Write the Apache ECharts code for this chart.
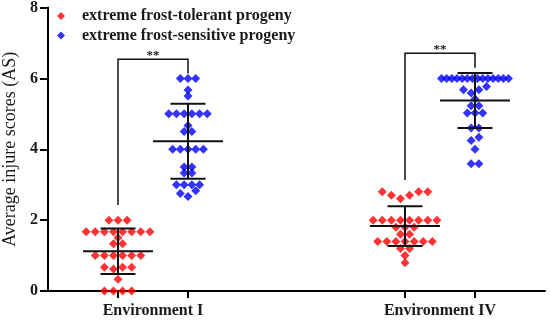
<!DOCTYPE html>
<html><head><meta charset="utf-8">
<script src="https://cdn.jsdelivr.net/npm/echarts@6/dist/echarts.min.js"></script>
<style>html,body{margin:0;padding:0;background:#fff}#c{width:550px;height:321px}</style>
</head><body><div id="c"></div>
<script>
// ---------------- data ----------------
const categories = ['Environment I', 'Environment IV'];
const seriesNames = ['extreme frost-tolerant progeny', 'extreme frost-sensitive progeny'];
const yTicks = [0, 2, 4, 6, 8];
const tolerantEnvI = [2, 2, 2, 1.67, 1.67, 1.67, 1.67, 1.67, 1.67, 1.67, 1.67, 1.5, 1.33, 1.33,
  1, 1, 1, 1, 1, 1, 0.67, 0.62, 0.67, 0.67, 0.33, 0, 0, 0, 0];
const sensitiveEnvI = [6, 6, 6, 5.67, 5.5, 5, 5, 5, 5, 5, 5, 4.67, 4.5, 4.5, 4, 4, 4, 4, 4,
  3.5, 3.5, 3.33, 3.33, 3, 3, 3, 3, 2.83, 2.75, 2.67];
const tolerantEnvIV = [2.8, 2.8, 2.8, 2.7, 2.7, 2.6, 2, 2, 2, 2, 2, 2, 2, 2, 1.8, 1.8, 1.8,
  1.6, 1.6, 1.4, 1.4, 1.4, 1.4, 1.4, 1.4, 1.4, 1.2, 1.2, 1.0, 0.8];
const sensitiveEnvIV = [6, 6, 6, 6, 6, 6, 6, 6, 6, 6, 6, 6, 6, 6, 5.77, 5.68, 5.68, 5.59, 5.42,
  5.23, 5.23, 5.02, 5.02, 5.02, 4.6, 4.6, 4.34, 4.25, 4.0, 3.59, 3.59];
const significance = ['**', '**'];
// significance brackets (y values): [left end, top, right end]
const bracketEnvI = [2.43, 6.54, 6.14];
const bracketEnvIV = [3.13, 6.71, 6.30];

// ---------------- layout ----------------
const colX = [[1, 2], [5.1, 6.1]];   // column positions on the x value axis
const labelX = [1.5, 5.6];
const X_MAX = 7.1;
const GAP = 0.14;                    // rows closer than this are swarmed together
const SPACING = [0.13, 0.11];        // horizontal spacing of points (x units)
const MAX_W = 0.957;                 // max swarm width
const colors = ['#ff0000', '#0000ff'];
const FONT = '"Liberation Serif", "Times New Roman", serif';
const TXT = '#1a1a1a';

function swarm(values, cx, spacing) {
  const sorted = values.slice().sort((a, b) => a - b);
  const bins = []; let cur = [];
  sorted.forEach(v => {
    if (cur.length && v - cur[cur.length - 1] > GAP + 1e-9) { bins.push(cur); cur = []; }
    cur.push(v);
  });
  if (cur.length) bins.push(cur);
  const pts = [];
  bins.forEach(bin => {
    const n = bin.length;
    const s = n > 1 ? Math.min(spacing, MAX_W / (n - 1)) : 0;
    const slots = [];
    for (let i = 0; i < n; i++) slots.push((i - (n - 1) / 2) * s);
    slots.sort((a, b) => (Math.abs(a) - Math.abs(b)) || (a - b));
    bin.forEach((v, i) => pts.push([cx + slots[i], v]));
  });
  return pts;
}
function stats(a) {
  const m = a.reduce((s, v) => s + v, 0) / a.length;
  const sd = Math.sqrt(a.reduce((s, v) => s + (v - m) * (v - m), 0) / (a.length - 1));
  return [m, sd];
}

const groups = [[tolerantEnvI, tolerantEnvIV], [sensitiveEnvI, sensitiveEnvIV]];
const scatterSeries = groups.map((g, si) => ({
  name: seriesNames[si],
  type: 'scatter',
  symbol: 'diamond',
  symbolSize: 9,
  itemStyle: { color: colors[si] },
  z: 2,
  data: g.flatMap((vals, ei) => swarm(vals, colX[ei][si], SPACING[si]))
}));

const summaryData = [];
groups.forEach((g, si) => g.forEach((vals, ei) => {
  const [m, sd] = stats(vals);
  summaryData.push([colX[ei][si], m, sd]);
}));

const brackets = [bracketEnvI, bracketEnvIV];
const bracketData = brackets.map((b, ei) => [colX[ei][0], colX[ei][1], b[0], b[1], b[2], ei]);

const chart = echarts.init(document.getElementById('c'), null, { renderer: 'canvas' });
chart.setOption({
  animation: false,
  backgroundColor: '#fff',
  grid: { left: 48, right: 5, top: 7.5, bottom: 30, containLabel: false, outerBoundsMode: 'none' },
  legend: [0, 1].map(i => ({
    data: [seriesNames[i]],
    left: 57, top: 8 + i * 19.5,
    padding: 0,
    icon: 'diamond', itemWidth: 8, itemHeight: 8,
    textStyle: { fontFamily: FONT, fontWeight: 'bold', fontSize: 16, color: TXT, padding: [0, 0, 0, 12] }
  })),
  xAxis: {
    type: 'value', min: 0, max: X_MAX,
    splitLine: { show: false },
    axisLine: { lineStyle: { color: '#000', width: 2 } },
    axisTick: { show: true, customValues: [colX[0][0], colX[0][1], colX[1][0], colX[1][1]], length: 7, lineStyle: { color: '#000', width: 2 } },
    axisLabel: {
      customValues: labelX,
      formatter: v => categories[labelX.indexOf(v)],
      fontFamily: FONT, fontWeight: 'bold', fontSize: 16, color: TXT, margin: 12
    }
  },
  yAxis: {
    type: 'value', min: yTicks[0], max: yTicks[yTicks.length - 1], interval: yTicks[1] - yTicks[0],
    splitLine: { show: false },
    axisLine: { show: true, lineStyle: { color: '#000', width: 2 } },
    axisTick: { show: true, length: 8, lineStyle: { color: '#000', width: 2 } },
    axisLabel: { fontFamily: FONT, fontWeight: 'bold', fontSize: 16, color: TXT, margin: 10 },
    name: 'Average injure scores (AS)',
    nameLocation: 'middle', nameGap: 26,
    nameTextStyle: { fontFamily: FONT, fontSize: 18, color: TXT }
  },
  series: [
    ...scatterSeries,
    {
      type: 'custom', z: 5, silent: true,
      data: summaryData,
      renderItem: (params, api) => {
        const x = api.value(0), m = api.value(1), sd = api.value(2);
        const p = (a, b) => api.coord([a, b]);
        const seg = (a, b) => ({ type: 'line', shape: { x1: a[0], y1: a[1], x2: b[0], y2: b[1] }, style: { stroke: '#111', lineWidth: 2 } });
        return {
          type: 'group', children: [
            seg(p(x - 0.5, m), p(x + 0.5, m)),
            seg(p(x - 0.25, m + sd), p(x + 0.25, m + sd)),
            seg(p(x - 0.25, m - sd), p(x + 0.25, m - sd)),
            seg(p(x, m - sd), p(x, m + sd))
          ]
        };
      }
    },
    {
      type: 'custom', z: 5, silent: true,
      data: bracketData,
      renderItem: (params, api) => {
        const xl = api.value(0), xr = api.value(1), yl = api.value(2), yt = api.value(3), yr = api.value(4);
        const p = (a, b) => api.coord([a, b]);
        const top = p((xl + xr) / 2, yt);
        return {
          type: 'group', children: [
            { type: 'polyline', shape: { points: [p(xl, yl), p(xl, yt), p(xr, yt), p(xr, yr)] }, style: { stroke: '#111', lineWidth: 1.5, fill: null } },
            { type: 'text', x: top[0], y: top[1] - 4, style: { text: significance[params.dataIndex], fontFamily: FONT, fontSize: 13, fontWeight: 'bold', fill: TXT, align: 'center', verticalAlign: 'middle' } }
          ]
        };
      }
    }
  ]
});
</script></body></html>
